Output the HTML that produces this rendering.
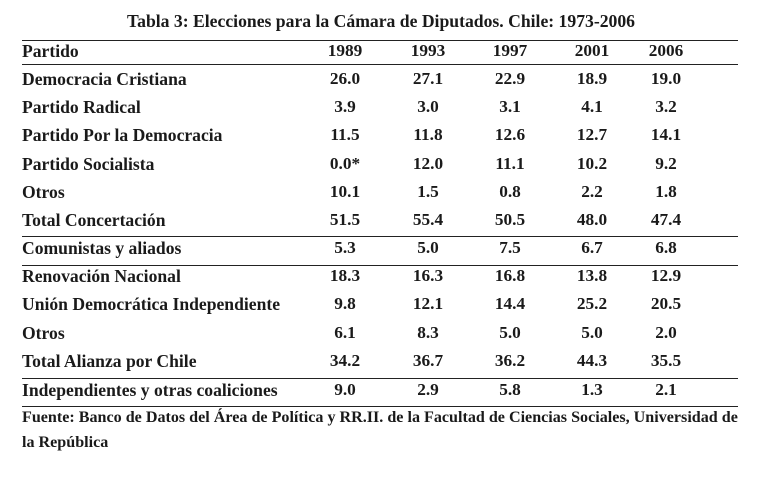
<!DOCTYPE html>
<html><head><meta charset="utf-8"><style>
html,body{margin:0;padding:0;background:#fff;}
body{width:770px;height:478px;position:relative;overflow:hidden;font-family:"Liberation Serif",serif;font-weight:bold;color:#1a1a1a;}
.t{position:absolute;white-space:nowrap;font-size:17.6px;letter-spacing:0px;line-height:20px;}
.c{position:absolute;width:80px;text-align:center;font-size:17.3px;letter-spacing:0px;line-height:20px;}
.l{position:absolute;left:22px;width:716px;height:1px;background:#222;}
</style></head><body>
<div class="t" style="left:127px;top:11px;font-size:17.65px;">Tabla 3: Elecciones para la Cámara de Diputados. Chile: 1973-2006</div>
<div class="l" style="top:40px"></div>
<div class="l" style="top:64px"></div>
<div class="l" style="top:236px"></div>
<div class="l" style="top:265px"></div>
<div class="l" style="top:378px"></div>
<div class="l" style="top:406px"></div>
<div id="rows"></div>
<div class="t" style="left:22px;top:408px;font-size:16.1px;">Fuente: Banco de Datos del Área de Política y RR.II. de la Facultad de Ciencias Sociales, Universidad de</div>
<div class="t" style="left:22px;top:433px;font-size:16.1px;">la República</div>
<script>
var rows=[
["Partido","1989","1993","1997","2001","2006",51],
["Democracia Cristiana","26.0","27.1","22.9","18.9","19.0",79],
["Partido Radical","3.9","3.0","3.1","4.1","3.2",107],
["Partido Por la Democracia","11.5","11.8","12.6","12.7","14.1",135],
["Partido Socialista","0.0*","12.0","11.1","10.2","9.2",164],
["Otros","10.1","1.5","0.8","2.2","1.8",192],
["Total Concertación","51.5","55.4","50.5","48.0","47.4",220],
["Comunistas y aliados","5.3","5.0","7.5","6.7","6.8",248],
["Renovación Nacional","18.3","16.3","16.8","13.8","12.9",276],
["Unión Democrática Independiente","9.8","12.1","14.4","25.2","20.5",304],
["Otros","6.1","8.3","5.0","5.0","2.0",333],
["Total Alianza por Chile","34.2","36.7","36.2","44.3","35.5",361],
["Independientes y otras coaliciones","9.0","2.9","5.8","1.3","2.1",390]];
var cx=[345,428,510,592,666],h="";
rows.forEach(function(r){var y=r[6]-10;
h+='<div class="t" style="left:22px;top:'+y+'px">'+r[0]+'</div>';
for(var i=0;i<5;i++)h+='<div class="c" style="left:'+(cx[i]-40)+'px;top:'+y+'px">'+r[i+1]+'</div>';});
document.getElementById('rows').innerHTML=h;
</script>
</body></html>
